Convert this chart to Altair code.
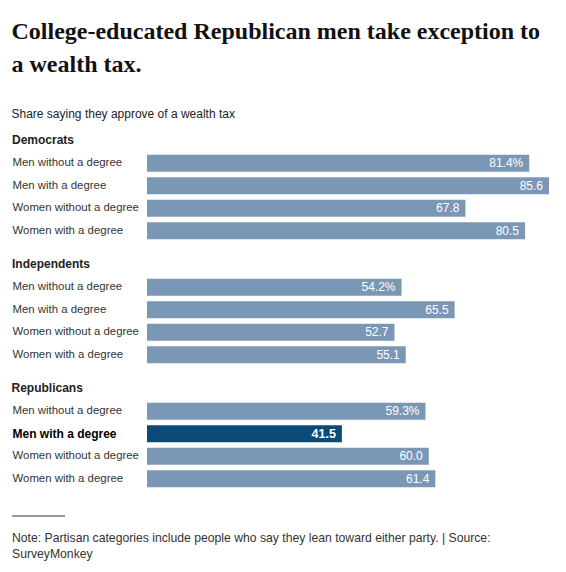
import altair as alt
import pandas as pd

groups = ["Democrats", "Independents", "Republicans"]
categories = ["Men without a degree", "Men with a degree",
              "Women without a degree", "Women with a degree"]
values = {
    "Democrats": [81.4, 85.6, 67.8, 80.5],
    "Independents": [54.2, 65.5, 52.7, 55.1],
    "Republicans": [59.3, 41.5, 60.0, 61.4],
}
highlight_group = "Republicans"
highlight_category = "Men with a degree"
title_lines = ["College-educated Republican men take exception to", "a wealth tax."]
subtitle = "Share saying they approve of a wealth tax"
note_lines = ["Note: Partisan categories include people who say they lean toward either party. | Source:",
              "SurveyMonkey"]

SANS = "Liberation Sans"
BAR = "#7b97b6"
HI = "#0c4b77"
W = 402
H = 90

panels = []
for g in groups:
    rows = []
    for i, (c, v) in enumerate(zip(categories, values[g])):
        lab = f"{v:.1f}%" if i == 0 else f"{v:.1f}"
        rows.append({"cat": c, "val": v, "lab": lab,
                     "hi": (g == highlight_group and c == highlight_category)})
    df = pd.DataFrame(rows)
    is_hi = g == highlight_group
    cond = f"datum.value == '{highlight_category}'"
    if is_hi:
        yaxis = alt.Axis(
            title=None, domain=False, ticks=False, labelAlign="left", labelPadding=135,
            labelFont=SANS,
            labelFontSize=alt.condition(cond, alt.value(12), alt.value(11.4)),
            labelColor=alt.condition(cond, alt.value("#000"), alt.value("#333")),
            labelFontWeight=alt.condition(cond, alt.value("bold"), alt.value("normal")),
            labelLimit=200,
        )
    else:
        yaxis = alt.Axis(
            title=None, domain=False, ticks=False, labelAlign="left", labelPadding=135,
            labelFont=SANS, labelFontSize=11.4, labelColor="#333", labelLimit=200,
        )
    y = alt.Y("cat:N", sort=categories, axis=yaxis,
              scale=alt.Scale(paddingInner=0.25, paddingOuter=0.125))
    x = alt.X("val:Q", axis=None, scale=alt.Scale(domain=[0, 85.6], nice=False, zero=True))
    bars = alt.Chart(df).mark_bar(cornerRadius=0).encode(
        x=x, y=y,
        color=alt.condition("datum.hi", alt.value(HI), alt.value(BAR)),
    )
    txt_norm = alt.Chart(df).transform_filter("!datum.hi").mark_text(
        align="right", baseline="middle", dx=-6, color="white", font=SANS, fontSize=12
    ).encode(x=x, y=y, text="lab:N")
    txt_hi = alt.Chart(df).transform_filter("datum.hi").mark_text(
        align="right", baseline="middle", dx=-6, color="white", font=SANS, fontSize=12.5, fontWeight="bold"
    ).encode(x=x, y=y, text="lab:N")
    layers = [bars, txt_norm, txt_hi]
    if g == groups[-1]:
        ndf = pd.DataFrame({"note": ["\n".join(note_lines)]})
        rule = alt.Chart(ndf).mark_rule(color="#333", strokeWidth=1).encode(
            x=alt.value(-135), x2=alt.value(-82), y=alt.value(116))
        note = alt.Chart(ndf).mark_text(
            align="left", baseline="top", lineBreak="\n", lineHeight=16,
            font=SANS, fontSize=12.2, color="#333"
        ).encode(x=alt.value(-135), y=alt.value(132), text="note:N")
        layers += [rule, note]
    panel = alt.layer(*layers).properties(
        width=W, height=H,
        title=alt.TitleParams(g, anchor="start", font=SANS, fontSize=12, fontWeight="bold",
                              color="#222", offset=5),
    )
    panels.append(panel)

chart = alt.vconcat(*panels, spacing=16).properties(
    title=alt.TitleParams(
        title_lines, subtitle=subtitle, anchor="start",
        font="Liberation Serif", fontSize=24, fontWeight="bold", color="#111", lineHeight=33,
        subtitleFont=SANS, subtitleFontSize=12, subtitleColor="#222", subtitlePadding=32,
        offset=14,
    ),
    padding={"left": 3, "top": 12, "right": 5, "bottom": 5},
).configure_view(stroke=None).configure_concat(spacing=16)

chart.save("out.html", embed_options={"renderer": "svg", "actions": False})
